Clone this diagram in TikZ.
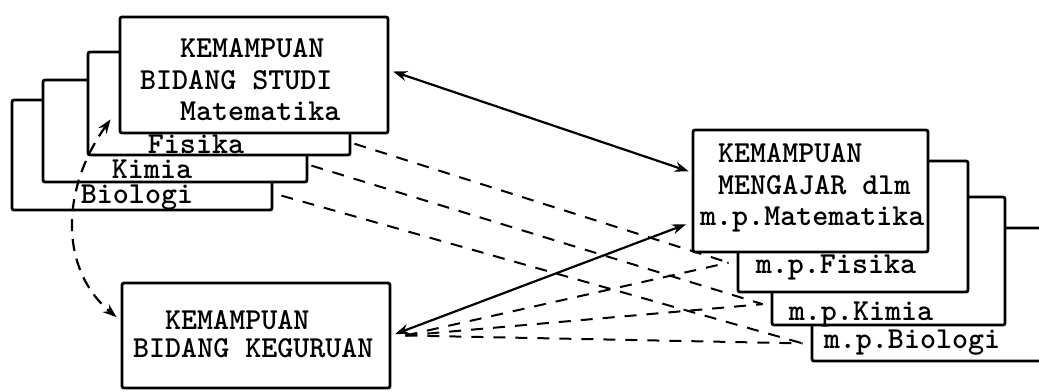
\documentclass[tikz,border=0pt]{standalone}
\usetikzlibrary{positioning, arrows.meta, calc}

\begin{document}
\begin{tikzpicture}[
    x=1pt, y=-1pt,
    >={Stealth[length=14pt,width=10pt]},
    stackbox/.style={draw, fill=white, rounded corners=2pt, line width=2.8pt,
                     inner sep=0pt},
    txt/.style={font=\fontsize{30.5}{31.5}\selectfont\ttfamily\bfseries,
                inner sep=0pt},
    arr/.style={<->, line width=2.2pt},
    dline/.style={line width=2pt, dash pattern=on 12pt off 10pt},
    darr/.style={<->, line width=2.2pt, dash pattern=on 12pt off 8pt},
]
\useasboundingbox (0,0) rectangle (1039,391);
\clip (0,0) rectangle (1039,391);

% ==========================
%  LEFT: Kemampuan bidang studi
% ==========================
\node[stackbox, minimum width=260pt, minimum height=110pt] (bioL) at (142,155) {};
\node[stackbox, minimum width=264pt, minimum height=102pt] (kimL) at (175,131) {};
\node[stackbox, minimum width=262pt, minimum height=103pt] (fisL) at (219,103.5) {};
\node[stackbox, minimum width=268pt, minimum height=116pt] (matL) at (254,75) {};

\node[txt, align=left, anchor=west] (matLtxt) at (140,80)
    {\hspace*{40pt}KEMAMPUAN\\BIDANG STUDI\\\hspace*{40pt}Matematika};
\node[txt, anchor=base] (fisLtxt) at (196,153) {Fisika};
\node[txt, anchor=base] (kimLtxt) at (152,178) {Kimia};
\node[txt, anchor=base] (bioLtxt) at (137,203) {Biologi};

% Kemampuan bidang keguruan
\node[stackbox, minimum width=268pt, minimum height=105pt] (keg) at (256,335.5) {};
\node[txt, align=left, anchor=west, font=\fontsize{30.5}{27.5}\selectfont\ttfamily\bfseries]
    (kegtxt) at (133,334) {\hspace*{32pt}KEMAMPUAN\\BIDANG KEGURUAN};

% ==========================
%  RIGHT: Kemampuan mengajar
% ==========================
\node[stackbox, minimum width=240pt, minimum height=133pt] (bioR) at (932,294.5) {};
\node[stackbox, minimum width=233pt, minimum height=128pt] (kimR) at (888.5,261) {};
\node[stackbox, minimum width=230pt, minimum height=131pt] (fisR) at (853,226.5) {};
\node[stackbox, minimum width=235pt, minimum height=122pt] (matR) at (810.5,191) {};

\node[txt, align=left, anchor=west] (matRtxt) at (700,188)
    {\hspace*{18pt}KEMAMPUAN\\\hspace*{18pt}MENGAJAR dlm\\m.p.Matematika};
\node[txt, anchor=base] (fisRtxt) at (836,273) {m.p.Fisika};
\node[txt, anchor=base] (kimRtxt) at (861,320) {m.p.Kimia};
\node[txt, anchor=base] (bioRtxt) at (912,348) {m.p.Biologi};

% ==========================
%  CONNECTORS
% ==========================
\coordinate (fisIn) at ($(fisR.north west)!0.77!(fisR.south west)+(-8,0)$);
\coordinate (kimIn) at ($(kimR.north west)!0.83!(kimR.south west)+(-8,0)$);
\coordinate (bioIn) at ($(bioR.north west)!0.86!(bioR.south west)+(-8,0)$);
\coordinate (kegOut) at ($(keg.north east)!0.5!(keg.south east)+(14,0)$);
\coordinate (curvTop) at ($(matL.south west)+(-8,-15)$);
\coordinate (curvBot) at ($(keg.north west)!0.33!(keg.south west)+(-4,0)$);

% solid links
\draw[arr, shorten <=4pt, shorten >=3pt]
    ($(matL.north east)!0.46!(matL.south east)$) --
    ($(matR.north west)!0.35!(matR.south west)$);
\draw[arr, shorten <=4pt, shorten >=6pt]
    ($(keg.north east)!0.5!(keg.south east)$) --
    ($(matR.north west)!0.75!(matR.south west)$);

% bidang studi -> mata pelajaran
\draw[dline] ($(fisL.north east)!0.88!(fisL.south east)+(3,0)$) -- (fisIn);
\draw[dline] ($(kimL.north east)!0.83!(kimL.south east)+(3,0)$) -- (kimIn);
\draw[dline] ($(bioL.north east)!0.86!(bioL.south east)+(8,0)$) -- (bioIn);

% keguruan -> mata pelajaran
\draw[dline] (kegOut) -- (fisIn);
\draw[dline] (kegOut) -- (kimIn);
\draw[dline] (kegOut) -- (bioIn);

% bidang studi <-> keguruan
\draw[darr] (curvTop) .. controls (60,190) and (60,270) .. (curvBot);

\end{tikzpicture}
\end{document}
